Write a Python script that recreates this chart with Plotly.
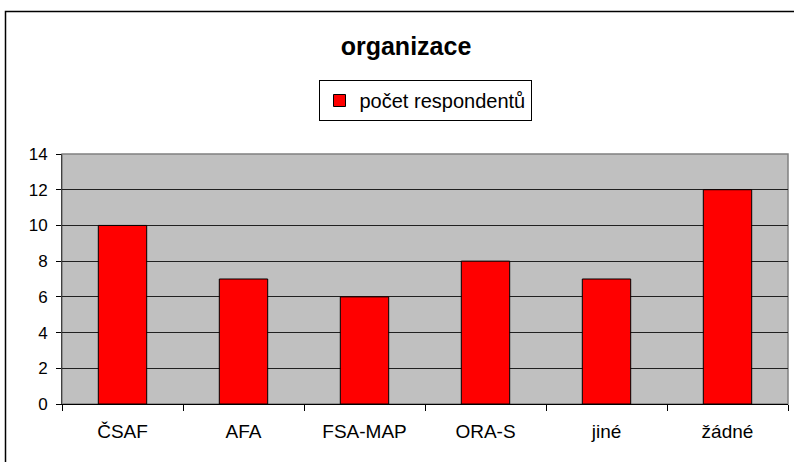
import plotly.graph_objects as go

categories = ["ČSAF", "AFA", "FSA-MAP", "ORA-S", "jiné", "žádné"]
values = [10, 7, 6, 8, 7, 12]
series_name = "počet respondentů"
title_text = "organizace"
y_ticks = [0, 2, 4, 6, 8, 10, 12, 14]

W, H = 794, 462
L, R, T, B = 62, 6, 154, 58
pw, ph = W - L - R, H - T - B

def px_x(px):
    return (px - L) / pw

def px_y(py):
    return (H - B - py) / ph

FONT = "Liberation Sans, Arial, sans-serif"

fig = go.Figure()
fig.add_trace(go.Bar(
    x=categories, y=values, name=series_name,
    marker=dict(color="#FF0000", line=dict(color="#000000", width=1)),
    showlegend=True,
))

fig.update_layout(
    width=W, height=H,
    margin=dict(l=L, r=R, t=T, b=B, pad=0),
    paper_bgcolor="white",
    plot_bgcolor="#C0C0C0",
    bargap=0.6,
    font=dict(family=FONT, color="black"),
    title=dict(text="<b>" + title_text + "</b>", x=406 / W, xref="container", xanchor="center",
               y=1 - 46 / H, yref="container", yanchor="middle",
               font=dict(size=25, family=FONT, color="black")),
    showlegend=True,
    legend=dict(x=0.5, xanchor="center", y=px_y(80), yanchor="top",
                orientation="h", bordercolor="black", borderwidth=1,
                itemwidth=30,
                bgcolor="white", font=dict(size=20, family=FONT)),
    xaxis=dict(showline=True, linecolor="black", linewidth=1,
               ticks="outside", tickson="boundaries", ticklen=6, tickcolor="black",
               ticklabelstandoff=10,
               tickfont=dict(size=19, family=FONT), showgrid=False),
    yaxis=dict(range=[0, 14], tickvals=y_ticks, showline=True, linecolor="#404040", linewidth=1,
               ticks="outside", ticklen=5, tickcolor="black",
               ticklabelstandoff=5,
               tickfont=dict(size=17, family=FONT),
               showgrid=True, gridcolor="#202020", gridwidth=1, zeroline=False),
    shapes=[
        dict(type="rect", xref="paper", yref="paper", x0=0, x1=1, y0=0, y1=1,
             line=dict(color="#808080", width=1.5), layer="below"),
        dict(type="rect", xref="paper", yref="paper",
             x0=px_x(5.5), x1=px_x(800), y0=px_y(11.5), y1=px_y(470),
             line=dict(color="black", width=1.5)),
    ],
)

fig.write_html("out.html", config={"displayModeBar": False},
               post_script="document.body.style.margin='0';document.body.style.overflow='hidden';")
